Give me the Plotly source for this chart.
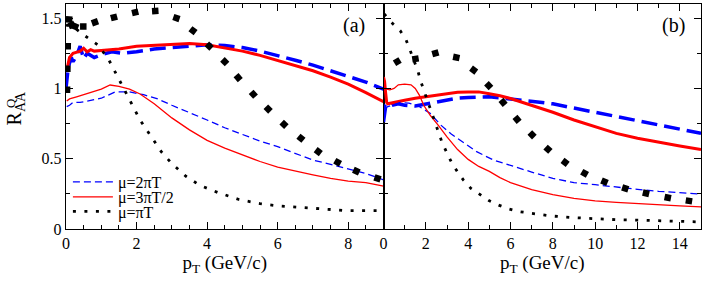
import plotly.graph_objects as go

# ---------------- Panel (a) data ----------------
a_thickblue_x = [0, 0.03, 0.06, 0.1, 0.15, 0.2, 0.3, 0.4, 0.5, 0.6, 0.8, 1.0, 1.3, 1.6, 2.0, 2.5, 3.0, 3.5, 4.0, 4.5, 5.0, 5.5, 6.0, 6.5, 7.0, 7.5, 8.0, 8.5, 9.0]
a_thickblue_y = [1.00, 1.08, 1.14, 1.18, 1.22, 1.19, 1.23, 1.30, 1.21, 1.25, 1.22, 1.24, 1.26, 1.25, 1.26, 1.28, 1.29, 1.30, 1.31, 1.305, 1.29, 1.265, 1.235, 1.20, 1.165, 1.125, 1.085, 1.045, 0.995]

a_thickred_x = [0.02, 0.05, 0.1, 0.2, 0.3, 0.4, 0.5, 0.6, 0.7, 0.8, 1.0, 1.5, 2.0, 2.5, 3.0, 3.5, 4.0, 4.5, 5.0, 5.5, 6.0, 6.5, 7.0, 7.5, 8.0, 8.5, 9.0]
a_thickred_y = [1.13, 1.17, 1.22, 1.25, 1.26, 1.265, 1.285, 1.26, 1.275, 1.265, 1.27, 1.28, 1.30, 1.305, 1.315, 1.32, 1.31, 1.29, 1.265, 1.235, 1.20, 1.165, 1.125, 1.08, 1.03, 0.97, 0.905]

a_thinblue_x = [0.02, 0.1, 0.2, 0.4, 0.6, 1.0, 1.4, 1.8, 2.2, 2.6, 3.0, 3.5, 4.0, 4.5, 5.0, 5.5, 6.0, 6.5, 7.0, 7.5, 8.0, 8.5, 9.0]
a_thinblue_y = [0.87, 0.88, 0.90, 0.90, 0.91, 0.93, 0.975, 0.975, 0.955, 0.925, 0.88, 0.83, 0.775, 0.72, 0.67, 0.625, 0.585, 0.535, 0.49, 0.46, 0.43, 0.395, 0.35]

a_thinred_x = [0.02, 0.1, 0.3, 0.6, 1.0, 1.25, 1.5, 1.8, 2.1, 2.5, 3.0, 3.5, 4.0, 4.5, 5.0, 5.5, 6.0, 6.5, 7.0, 7.5, 8.0, 8.5, 9.0]
a_thinred_y = [0.91, 0.925, 0.94, 0.965, 0.995, 1.024, 1.015, 0.995, 0.96, 0.89, 0.79, 0.705, 0.63, 0.575, 0.525, 0.48, 0.44, 0.41, 0.385, 0.36, 0.34, 0.33, 0.305]

a_dots_x = [0, 0.2, 0.5, 0.9, 1.2, 1.5, 1.8, 2.1, 2.4, 2.7, 3.0, 3.4, 3.8, 4.3, 4.9, 5.5, 6.0, 7.0, 8.0, 9.0]
a_dots_y = [1.45, 1.44, 1.38, 1.31, 1.21, 1.06, 0.92, 0.775, 0.66, 0.55, 0.465, 0.375, 0.31, 0.26, 0.21, 0.18, 0.165, 0.145, 0.13, 0.13]

a_sq_x = [0.02, 0.03, 0.04, 0.05, 0.09, 0.16, 0.26, 0.49, 0.82, 1.36, 1.96, 2.53, 3.13, 3.6, 4.06, 4.5, 4.88, 5.31, 5.73, 6.18, 6.66, 7.15, 7.7, 8.23, 8.83]
a_sq_y = [0.834, 0.99, 1.14, 1.30, 1.49, 1.45, 1.44, 1.44, 1.47, 1.505, 1.54, 1.55, 1.50, 1.41, 1.30, 1.19, 1.077, 0.958, 0.853, 0.744, 0.645, 0.55, 0.474, 0.412, 0.36]

# ---------------- Panel (b) data ----------------
b_thickblue_x = [0, 0.05, 0.1, 0.2, 0.4, 0.7, 1.0, 1.5, 2.0, 2.5, 3.0, 3.5, 4.0, 5.0, 6.0, 7.0, 8.0, 9.0, 10.0, 11.0, 12.0, 13.0, 14.0, 15.0]
b_thickblue_y = [0.76, 0.83, 0.87, 0.86, 0.88, 0.89, 0.88, 0.875, 0.89, 0.905, 0.92, 0.93, 0.935, 0.94, 0.925, 0.905, 0.89, 0.86, 0.83, 0.80, 0.765, 0.735, 0.705, 0.68]

b_thickred_x = [0, 0.05, 0.1, 0.15, 0.2, 0.4, 0.7, 1.0, 1.5, 2.0, 2.5, 3.0, 3.5, 4.0, 4.5, 5.0, 5.5, 6.0, 7.0, 8.0, 9.0, 10.0, 11.0, 12.0, 13.0, 14.0, 15.0]
b_thickred_y = [1.08, 1.05, 0.97, 0.90, 0.89, 0.895, 0.905, 0.915, 0.93, 0.94, 0.955, 0.965, 0.972, 0.975, 0.975, 0.962, 0.948, 0.928, 0.88, 0.83, 0.775, 0.725, 0.68, 0.645, 0.615, 0.59, 0.565]

b_thinblue_x = [0, 0.3, 0.8, 1.2, 1.7, 2.2, 2.7, 3.2, 3.8, 4.4, 5.2, 6.0, 7.0, 8.0, 9.0, 10.0, 11.0, 12.0, 13.0, 14.0, 15.0]
b_thinblue_y = [0.86, 0.875, 0.90, 0.895, 0.87, 0.823, 0.74, 0.675, 0.61, 0.55, 0.49, 0.45, 0.405, 0.36, 0.33, 0.315, 0.297, 0.282, 0.268, 0.257, 0.248]

b_thinred_x = [0, 0.15, 0.3, 0.5, 0.7, 1.0, 1.3, 1.5, 1.7, 1.9, 2.2, 2.6, 3.0, 3.5, 4.0, 4.5, 5.0, 5.5, 6.0, 7.0, 8.0, 9.0, 10.0, 11.0, 12.0, 13.0, 14.0, 15.0]
b_thinred_y = [1.0, 0.995, 0.99, 1.0, 1.025, 1.03, 1.025, 1.0, 0.95, 0.88, 0.81, 0.735, 0.655, 0.565, 0.495, 0.445, 0.41, 0.365, 0.33, 0.28, 0.245, 0.218, 0.20, 0.19, 0.18, 0.172, 0.165, 0.158]

b_dots_x = [0.03, 0.44, 0.79, 1.07, 1.26, 1.45, 1.62, 1.76, 1.92, 2.2, 2.39, 2.56, 2.77, 2.99, 3.22, 3.49, 3.77, 4.13, 4.56, 5.0, 5.44, 5.95, 6.43, 6.94, 7.45, 7.96, 8.98, 10.0, 11.0, 12.1, 13.1, 14.1, 15.0]
b_dots_y = [1.53, 1.46, 1.41, 1.344, 1.27, 1.2, 1.126, 1.05, 0.98, 0.86, 0.78, 0.70, 0.614, 0.543, 0.472, 0.408, 0.349, 0.289, 0.242, 0.20, 0.17, 0.142, 0.123, 0.113, 0.10, 0.092, 0.081, 0.071, 0.066, 0.063, 0.057, 0.052, 0.05]

b_sq_x = [0.1, 0.65, 1.51, 2.45, 3.44, 4.26, 4.97, 5.65, 6.31, 7.02, 7.77, 8.58, 9.5, 10.44, 11.42, 12.4, 13.43, 14.43]
b_sq_y = [1.14, 1.19, 1.21, 1.25, 1.22, 1.13, 1.02, 0.90, 0.78, 0.67, 0.567, 0.474, 0.396, 0.336, 0.289, 0.254, 0.223, 0.20]

legend_names = ["\u03bc=2\u03c0T", "\u03bc=3\u03c0T/2", "\u03bc=\u03c0T"]

BLUE = "#0000ff"
RED = "#ff0000"
FONT = "Liberation Serif"

fig = go.Figure()

def add_panel(xa, ya, tb, tr, nb, nr, dots, sq, show_legend):
    fig.add_trace(go.Scatter(x=tb[0], y=tb[1], mode="lines", xaxis=xa, yaxis=ya,
                             line=dict(color=BLUE, width=3.5, dash="16px,7px"), showlegend=False))
    fig.add_trace(go.Scatter(x=tr[0], y=tr[1], mode="lines", xaxis=xa, yaxis=ya,
                             line=dict(color=RED, width=3), showlegend=False))
    fig.add_trace(go.Scatter(x=nb[0], y=nb[1], mode="lines", xaxis=xa, yaxis=ya, name=legend_names[0],
                             line=dict(color=BLUE, width=1.3, dash="7px,4px"),
                             showlegend=show_legend, legend="legend"))
    fig.add_trace(go.Scatter(x=nr[0], y=nr[1], mode="lines", xaxis=xa, yaxis=ya, name=legend_names[1],
                             line=dict(color=RED, width=1.3),
                             showlegend=show_legend, legend="legend2"))
    fig.add_trace(go.Scatter(x=dots[0], y=dots[1], mode="lines", xaxis=xa, yaxis=ya, name=legend_names[2],
                             line=dict(color="black", width=2.8, dash="3px,8.5px"),
                             showlegend=show_legend, legend="legend3"))
    fig.add_trace(go.Scatter(x=sq[0], y=sq[1], mode="markers", xaxis=xa, yaxis=ya,
                             marker=dict(symbol="square", size=6.5, color="black", angleref="previous"),
                             showlegend=False))

add_panel("x", "y", (a_thickblue_x, a_thickblue_y), (a_thickred_x, a_thickred_y),
          (a_thinblue_x, a_thinblue_y), (a_thinred_x, a_thinred_y),
          (a_dots_x, a_dots_y), (a_sq_x, a_sq_y), True)
add_panel("x2", "y2", (b_thickblue_x, b_thickblue_y), (b_thickred_x, b_thickred_y),
          (b_thinblue_x, b_thinblue_y), (b_thinred_x, b_thinred_y),
          (b_dots_x, b_dots_y), (b_sq_x, b_sq_y), False)

axis_common = dict(showline=True, linecolor="black", linewidth=1.4, mirror="allticks",
                   ticks="inside", ticklen=7, tickwidth=1.1, tickcolor="black",
                   showgrid=False, zeroline=False,
                   tickfont=dict(family=FONT, size=16, color="black"))

def legend_box(ypos):
    return dict(x=0.003, y=ypos, xanchor="left", yanchor="middle",
                bgcolor="rgba(0,0,0,0)", font=dict(family=FONT, size=16),
                itemwidth=40, borderwidth=0)

fig.update_layout(
    width=706, height=282,
    margin=dict(l=66, r=5, t=4, b=53),
    paper_bgcolor="white", plot_bgcolor="white",
    font=dict(family=FONT, size=16, color="black"),
    xaxis=dict(domain=[0, 0.5], range=[0, 9], anchor="y", dtick=2, tick0=0,
               minor=dict(dtick=0.5, ticks="inside", ticklen=4, tickcolor="black", tickwidth=1),
               title=dict(text="p<sub>T</sub> (GeV/c)", font=dict(family=FONT, size=19), standoff=4),
               **axis_common),
    xaxis2=dict(domain=[0.5, 1], range=[0, 15], anchor="y2", dtick=2, tick0=0,
                minor=dict(dtick=1, ticks="inside", ticklen=4, tickcolor="black", tickwidth=1),
                title=dict(text="p<sub>T</sub> (GeV/c)", font=dict(family=FONT, size=19), standoff=4),
                **axis_common),
    yaxis=dict(domain=[0, 1], range=[0, 1.6], anchor="x", dtick=0.5, tick0=0,
               minor=dict(dtick=0.25, ticks="inside", ticklen=4, tickcolor="black", tickwidth=1),
               **axis_common),
    yaxis2=dict(domain=[0, 1], range=[0, 1.6], anchor="x2", matches="y", dtick=0.5, tick0=0,
                showticklabels=False,
                minor=dict(dtick=0.25, ticks="inside", ticklen=4, tickcolor="black", tickwidth=1),
                **axis_common),
    legend=legend_box(0.209),
    legend2=legend_box(0.142),
    legend3=legend_box(0.078),
    annotations=[
        dict(text="R<sub>AA</sub>", xref="paper", yref="paper", x=-0.079, y=0.535, showarrow=False,
             xanchor="center", yanchor="middle",
             textangle=-90, font=dict(family=FONT, size=20)),
        dict(text="Q", xref="paper", yref="paper", x=-0.0866, y=0.56, showarrow=False,
             xanchor="center", yanchor="middle",
             textangle=-90, font=dict(family=FONT, size=13)),
        dict(text="(a)", xref="x", yref="y", x=8.15, y=1.445, showarrow=False,
             font=dict(family=FONT, size=20)),
        dict(text="(b)", xref="x2", yref="y2", x=13.7, y=1.445, showarrow=False,
             font=dict(family=FONT, size=20)),
    ],
)

fig.write_html("out.html", config={"displayModeBar": False},
               post_script="document.body.style.margin='0';document.body.style.padding='0';")
